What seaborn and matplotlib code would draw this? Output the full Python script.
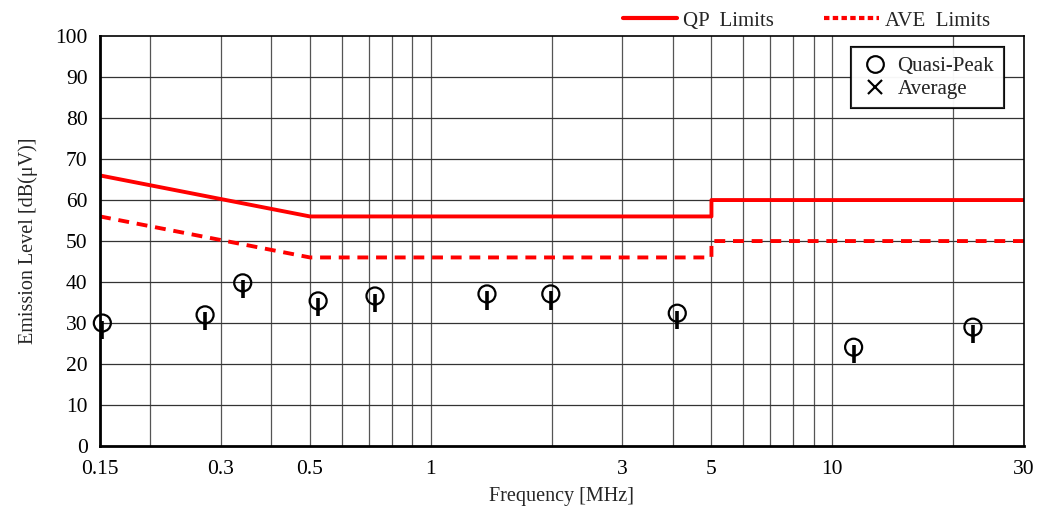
"""Emission level chart: QP/AVE limits and quasi-peak measurements"""

import numpy as np
import pandas as pd
import seaborn as sns
import matplotlib.pyplot as plt
from matplotlib.lines import Line2D

# limit lines (MHz, dBuV)
qp_freq = [0.15, 0.5, 5, 5, 30]
qp_level = [66, 56, 56, 60, 60]
ave_freq = [0.15, 0.5, 5, 5, 30]
ave_level = [56, 46, 46, 50, 50]

# quasi-peak measurements
meas_freq = [0.152, 0.274, 0.34, 0.524, 0.726, 1.38, 1.99, 4.11, 11.3, 22.4]
meas_qp = [30.0, 32.0, 39.8, 35.4, 36.6, 37.1, 37.1, 32.4, 24.1, 29.0]

xtick_vals = [0.15, 0.3, 0.5, 1, 3, 5, 10, 30]
xtick_labels = ["0.15", "0.3", "0.5", "1", "3", "5", "10", "30"]
grid_x = [0.2, 0.3, 0.4, 0.5, 0.6, 0.7, 0.8, 0.9, 1, 2, 3, 4, 5, 6, 7, 8, 9, 10, 20]


def main():
    sns.set_theme(style="white")
    plt.rcParams['font.family'] = ['Liberation Serif', 'DejaVu Serif']

    fig = plt.figure(figsize=(10.42, 5.08), dpi=100)
    ax = fig.add_axes([0.096, 0.122, 0.8866, 0.807])

    ## la grille d'abord
    for gx in grid_x:
        ax.axvline(gx, color="#555555", lw=0.9, zorder=1)
    for gy in range(10, 100, 10):
        ax.axhline(gy, color="#333333", lw=0.9, zorder=1)

    qp = pd.DataFrame({"f": qp_freq, "lvl": qp_level})
    ave = pd.DataFrame({"f": ave_freq, "lvl": ave_level})
    sns.lineplot(data=qp, x="f", y="lvl", color="red", lw=2.8, sort=False,
                 estimator=None, ax=ax, zorder=3)
    sns.lineplot(data=ave, x="f", y="lvl", color="red", lw=2.8, sort=False,
                 estimator=None, ax=ax, zorder=3, dashes=False)
    ax.lines[-1].set_dashes([2.8, 2.0])

    meas = pd.DataFrame({"f": meas_freq, "qp": meas_qp})
    # petits traits verticaux sous les cercles
    stems = ax.vlines(meas["f"], meas["qp"] + 0.6, meas["qp"] - 3.8, color="black",
                      lw=2.6, zorder=4)
    stems.set_clip_on(False)
    sns.scatterplot(data=meas, x="f", y="qp", marker="o", s=150,
                    facecolor="none", edgecolor="black", linewidth=1.6,
                    ax=ax, zorder=5, clip_on=False)

    ax.set_xscale("log")
    ax.set_xlim(0.15, 30)
    ax.set_ylim(0, 100)
    ax.set_xticks(xtick_vals)
    ax.set_xticklabels(xtick_labels)
    ax.xaxis.set_minor_locator(plt.NullLocator())
    ax.set_yticks(range(0, 101, 10))
    ax.tick_params(axis="both", length=0, labelsize=15.5, colors="black")
    ax.tick_params(axis="x", pad=10)
    ax.tick_params(axis="y", pad=9)
    ax.set_xlabel("Frequency [MHz]", fontsize=14.5, labelpad=6)
    ax.set_ylabel("Emission Level [dB(\u03bcV)]", fontsize=14.5, labelpad=12)

    for side in ["left", "bottom"]:
        ax.spines[side].set_linewidth(2.0)
    for side in ["top", "right"]:
        ax.spines[side].set_linewidth(1.2)
    for sp in ax.spines.values():
        sp.set_color("black")
        sp.set_zorder(6)

    # legende interne
    inner = [
        Line2D([], [], marker="o", ls="none", mfc="none", mec="black", ms=12, mew=1.5,
               label="Quasi-Peak"),
        Line2D([], [], marker="x", ls="none", color="black", ms=10, mew=1.5,
               label="Average"),
    ]
    leg1 = ax.legend(handles=inner, loc="upper right", bbox_to_anchor=(0.978, 0.973),
                     frameon=True, fancybox=False, edgecolor="black", fontsize=15,
                     handletextpad=0.4, borderpad=0.45, labelspacing=0.15,
                     handlelength=1.4, borderaxespad=0.0)
    leg1.get_frame().set_linewidth(1.5)
    leg1.set_zorder(7)
    ax.add_artist(leg1)

    # legende du haut
    qp_h = Line2D([], [], color="red", lw=3, label="QP  Limits")
    ave_h = Line2D([], [], color="red", lw=3, dashes=[1.3, 0.8], label="AVE  Limits")
    fig.legend(handles=[qp_h, ave_h], loc="upper right", bbox_to_anchor=(0.968, 1.015),
               ncol=2, frameon=False, fontsize=15, handlelength=2.6,
               handletextpad=0.3, columnspacing=2.4)

    fig.savefig("out.png", dpi=100)


if __name__ == '__main__':
    main()
